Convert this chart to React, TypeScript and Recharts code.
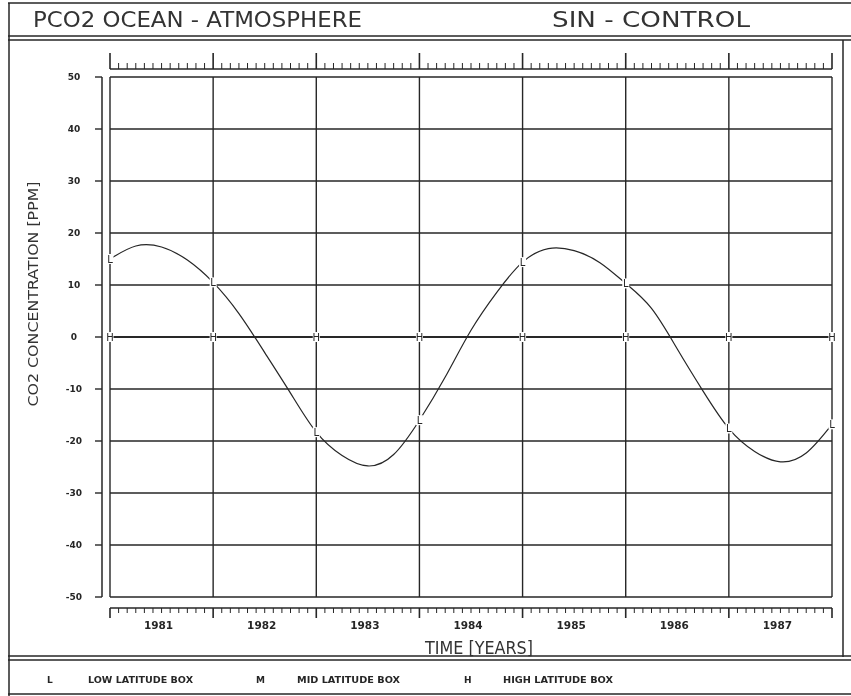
import { LineChart, Line, XAxis, YAxis, CartesianGrid } from "recharts";

const YEARS = [1981, 1982, 1983, 1984, 1985, 1986, 1987, 1988];
const YEAR_LABELS = ["1981", "1982", "1983", "1984", "1985", "1986", "1987"];
const Y_TICKS = [-50, -40, -30, -20, -10, 0, 10, 20, 30, 40, 50];

// low latitude box, every quarter year
const LOW_TIME = [
  1981, 1981.25, 1981.5, 1981.75, 1982, 1982.25, 1982.5, 1982.75, 1983, 1983.25,
  1983.5, 1983.75, 1984, 1984.25, 1984.5, 1984.75, 1985, 1985.25, 1985.5, 1985.75,
  1986, 1986.25, 1986.5, 1986.75, 1987, 1987.25, 1987.5, 1987.75, 1988,
];
const LOW_VALUES = [
  15.0, 17.5, 17.3, 14.8, 10.5, 4.5, -3.0, -10.8, -18.3, -22.8,
  -24.8, -22.6, -16.0, -7.7, 1.3, 8.6, 14.4, 17.0, 16.6, 14.3,
  10.3, 5.5, -2.3, -10.4, -17.6, -22.0, -24.0, -22.3, -16.8,
];
const MID_VALUES = [0, 0, 0, 0, 0, 0, 0, 0];
const HIGH_VALUES = [0, 0, 0, 0, 0, 0, 0, 0];

const lowData = LOW_TIME.map((t, i) => ({ t, v: LOW_VALUES[i] }));
const midData = YEARS.map((t, i) => ({ t, v: MID_VALUES[i] }));
const highData = YEARS.map((t, i) => ({ t, v: HIGH_VALUES[i] }));

// monthly tick positions for the top and bottom time axes
const MONTHS = Array.from({ length: 85 }, (_, k) => 1981 + k / 12);

const INK = "#262626";
const W = 851;
const H = 696;
const PLOT = { left: 110, right: 832, top: 77, bottom: 597 };

const monthIndex = (v: number) => Math.round((v - 1981) * 12);

const BottomTick = (props: any) => {
  const { x, payload } = props;
  const k = monthIndex(payload.value);
  const major = k % 12 === 0;
  const label = k % 12 === 6 ? YEAR_LABELS[Math.floor(k / 12)] : null;
  return (
    <g>
      <line x1={x} x2={x} y1={608} y2={major ? 618 : 613} stroke={INK} strokeWidth={major ? 1.6 : 1} />
      {label && (
        <text x={x - 3} y={629} textAnchor="middle" fontSize={10.5} fontWeight="bold" fill={INK}
          fontFamily="DejaVu Sans, sans-serif">
          {label}
        </text>
      )}
    </g>
  );
};

const TopTick = (props: any) => {
  const { x, payload } = props;
  const k = monthIndex(payload.value);
  const major = k % 12 === 0;
  return <line x1={x} x2={x} y1={69} y2={major ? 53 : 63} stroke={INK} strokeWidth={major ? 1.6 : 1} />;
};

const LeftTick = (props: any) => {
  const { y, payload } = props;
  return (
    <g>
      <line x1={95} x2={102} y1={y} y2={y} stroke={INK} strokeWidth={1.4} />
      <text x={74} y={y} textAnchor="middle" dominantBaseline="central" fontSize={9} fontWeight="bold"
        fill={INK} fontFamily="DejaVu Sans, sans-serif">
        {payload.value}
      </text>
    </g>
  );
};

const letterDot = (letter: string, yearsOnly: boolean) => (props: any) => {
  const { cx, cy, payload, index } = props;
  if (yearsOnly && !Number.isInteger(payload.t)) return <g key={`d${index}`} />;
  return (
    <g key={`d${index}`}>
      <rect x={cx - 3.5} y={cy - 5} width={7} height={10} fill="#fff" />
      <text x={cx} y={cy} textAnchor="middle" dominantBaseline="central" fontSize={10}
        fill={INK} fontFamily="DejaVu Sans, sans-serif">
        {letter}
      </text>
    </g>
  );
};

const txt = { fill: "#333", fontFamily: "DejaVu Sans, sans-serif" };
const legendTxt = { fill: INK, fontFamily: "DejaVu Sans, sans-serif", fontWeight: "bold" as const, fontSize: 9 };

const Frame = () => (
  <svg width={W} height={H} style={{ position: "absolute", left: 0, top: 0, pointerEvents: "none" }}>
    <g stroke={INK} strokeWidth={1.5} fill="none">
      <line x1={8} x2={W} y1={3} y2={3} />
      <line x1={9} x2={9} y1={3} y2={H} />
      <line x1={8} x2={W} y1={36} y2={36} />
      <line x1={8} x2={W} y1={40} y2={40} />
      <line x1={843} x2={843} y1={40} y2={657} />
      <line x1={8} x2={W} y1={656} y2={656} />
      <line x1={8} x2={W} y1={660} y2={660} />
      <line x1={8} x2={W} y1={694} y2={694} />
      {/* time axis baselines and separate value axis line */}
      <line x1={PLOT.left} x2={PLOT.right} y1={69} y2={69} />
      <line x1={PLOT.left} x2={PLOT.right} y1={608} y2={608} />
      <line x1={102} x2={102} y1={PLOT.top} y2={PLOT.bottom} />
    </g>
    <text x={33} y={27} fontSize={21} textLength={329} lengthAdjust="spacingAndGlyphs" {...txt}>
      PCO2 OCEAN  -  ATMOSPHERE
    </text>
    <text x={552} y={27} fontSize={21} textLength={198} lengthAdjust="spacingAndGlyphs" {...txt}>
      SIN  -  CONTROL
    </text>
    <text x={425} y={654} fontSize={17} textLength={108} lengthAdjust="spacingAndGlyphs" {...txt}>
      TIME [YEARS]
    </text>
    <text x={33} y={294} fontSize={14} textAnchor="middle" dominantBaseline="central" transform="rotate(-90 33 294)"
      textLength={225} lengthAdjust="spacingAndGlyphs" {...txt}>
      CO2 CONCENTRATION [PPM]
    </text>
    <text x={47} y={683} {...legendTxt}>L</text>
    <text x={88} y={683} textLength={105} lengthAdjust="spacingAndGlyphs" {...legendTxt}>LOW LATITUDE BOX</text>
    <text x={256} y={683} {...legendTxt}>M</text>
    <text x={297} y={683} textLength={103} lengthAdjust="spacingAndGlyphs" {...legendTxt}>MID LATITUDE BOX</text>
    <text x={464} y={683} {...legendTxt}>H</text>
    <text x={503} y={683} textLength={110} lengthAdjust="spacingAndGlyphs" {...legendTxt}>HIGH LATITUDE BOX</text>
  </svg>
);

const App = () => {
  return (
    <div style={{ position: "absolute", left: 0, top: 0, width: W, height: H, background: "#fff", filter: "grayscale(1)" }}>
      <LineChart
        width={W}
        height={H}
        margin={{ top: PLOT.top - 10, right: W - PLOT.right, bottom: H - PLOT.bottom - 30, left: PLOT.left - 10 }}
      >
        <XAxis xAxisId="grid" dataKey="t" type="number" domain={[1981, 1988]} ticks={YEARS} hide />
        <XAxis
          xAxisId="bottom"
          dataKey="t"
          type="number"
          domain={[1981, 1988]}
          ticks={MONTHS}
          interval={0}
          height={30}
          axisLine={false}
          tickLine={false}
          tick={BottomTick}
        />
        <XAxis
          xAxisId="top"
          orientation="top"
          dataKey="t"
          type="number"
          domain={[1981, 1988]}
          ticks={MONTHS}
          interval={0}
          height={10}
          axisLine={false}
          tickLine={false}
          tick={TopTick}
        />
        <YAxis
          type="number"
          domain={[-50, 50]}
          ticks={Y_TICKS}
          interval={0}
          width={10}
          axisLine={false}
          tickLine={false}
          tick={LeftTick}
        />
        <CartesianGrid xAxisId="grid" stroke={INK} strokeWidth={1.4} />
        <Line xAxisId="grid" data={midData} dataKey="v" type="linear" stroke={INK} strokeWidth={1.5}
          dot={false} isAnimationActive={false} />
        <Line xAxisId="top" data={highData} dataKey="v" type="linear" stroke={INK} strokeWidth={1.5}
          dot={letterDot("H", false)} isAnimationActive={false} />
        <Line xAxisId="bottom" data={lowData} dataKey="v" type="natural" stroke={INK} strokeWidth={1.2}
          dot={letterDot("L", true)} isAnimationActive={false} />
      </LineChart>
      <Frame />
    </div>
  );
};

export default App;
